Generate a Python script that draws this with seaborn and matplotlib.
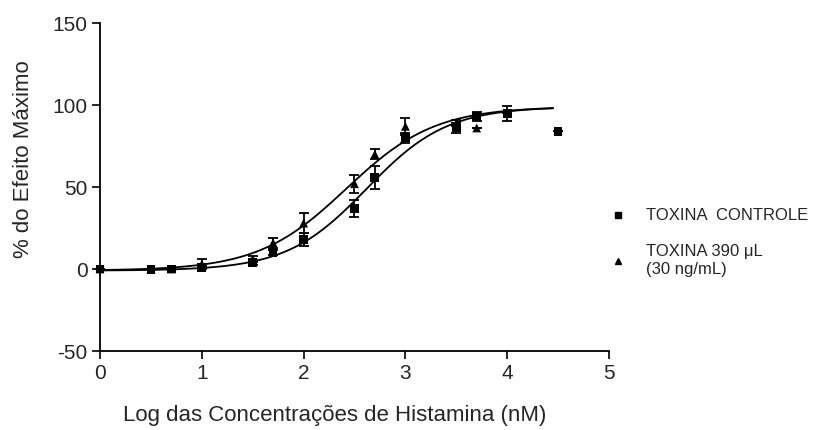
import numpy as np
import pandas as pd
import matplotlib
matplotlib.use("Agg")
import matplotlib.pyplot as plt
import seaborn as sns
from matplotlib.lines import Line2D

# === Data ===
log_conc = [0, 0.5, 0.7, 1.0, 1.5, 1.7, 2.0, 2.5, 2.7, 3.0, 3.5, 3.7, 4.0, 4.5]

controle_mean = [0, -0.5, 0, 1, 4, 10, 18, 37, 56, 80, 86, 93, 95, 84]
controle_sem = [0, 0, 0, 1, 1.5, 1.5, 4, 5, 7, 3, 3, 3, 4.5, 0]

toxina_mean = [0, 0, 0, 3, 6, 16, 28, 52, 70, 87, 89, 86, 95, np.nan]
toxina_sem = [0, 0, 0, 3, 2, 3, 6, 5.5, 3, 5, 2, 0, 0, np.nan]

# sigmoid fit parameters (bottom, top, logEC50, hill), estimated from the curves
fit_controle = (-1, 99, 2.62, 1.1)
fit_toxina = (-1, 99, 2.42, 1.0)
fit_range = (0, 4.45)

labels = ["TOXINA  CONTROLE", "TOXINA 390 \u03bcL\n(30 ng/mL)"]

df = pd.DataFrame({
    "x": log_conc * 2,
    "y": controle_mean + toxina_mean,
    "err": controle_sem + toxina_sem,
    "grupo": [labels[0]] * len(log_conc) + [labels[1]] * len(log_conc),
})


def sigmoid(x, bottom, top, logec50, hill):
    return bottom + (top - bottom) / (1 + 10 ** ((logec50 - x) * hill))


xs = np.linspace(fit_range[0], fit_range[1], 200)
curves = pd.DataFrame({
    "x": np.concatenate([xs, xs]),
    "y": np.concatenate([sigmoid(xs, *fit_controle), sigmoid(xs, *fit_toxina)]),
    "grupo": [labels[0]] * len(xs) + [labels[1]] * len(xs),
})

# === Plot ===
sns.set_style("ticks")
plt.rcParams["font.family"] = ["Liberation Sans", "DejaVu Sans"]
plt.rcParams["axes.unicode_minus"] = False

fig = plt.figure(figsize=(8.17, 4.30), dpi=100)
ax = fig.add_axes([0.1224, 0.1837, 0.6230, 0.7628])

sns.lineplot(data=curves, x="x", y="y", units="grupo", estimator=None,
             color="black", linewidth=1.3, ax=ax, legend=False)

markers = {labels[0]: "s", labels[1]: "^"}
for g, sub in df.groupby("grupo", sort=False):
    ax.errorbar(sub["x"], sub["y"], yerr=sub["err"], fmt="none", ecolor="black",
                elinewidth=1.3, capsize=3.5, capthick=1.3, clip_on=False)
sns.scatterplot(data=df, x="x", y="y", style="grupo", markers=markers,
                color="black", s=40, edgecolor="black", linewidth=0,
                ax=ax, legend=False, clip_on=False, zorder=3)

ax.set_xlim(0, 5)
ax.set_ylim(-50, 150)
ax.set_xticks([0, 1, 2, 3, 4, 5])
ax.set_yticks([-50, 0, 50, 100, 150])
ax.tick_params(axis="both", labelsize=15, length=6, width=1.2, direction="out",
               color="black", pad=3)
for s in ["left", "bottom"]:
    ax.spines[s].set_linewidth(1.3)
    ax.spines[s].set_color("black")
sns.despine(ax=ax)

ax.set_xlabel("Log das Concentrações de Histamina (nM)", fontsize=16)
ax.set_ylabel("% do Efeito Máximo", fontsize=16)
ax.xaxis.set_label_coords(0.462, -0.165)
ax.yaxis.set_label_coords(-0.13, 0.585)

handles = [
    Line2D([], [], marker="s", color="black", linestyle="none", markersize=5),
    Line2D([], [], marker="^", color="black", linestyle="none", markersize=5),
]
fig.legend(handles, labels, loc="upper left", bbox_to_anchor=(0.728, 0.55),
           frameon=False, fontsize=12, handlelength=1.0, handletextpad=1.2,
           labelspacing=1.25)

plt.savefig("out.png", dpi=100)
